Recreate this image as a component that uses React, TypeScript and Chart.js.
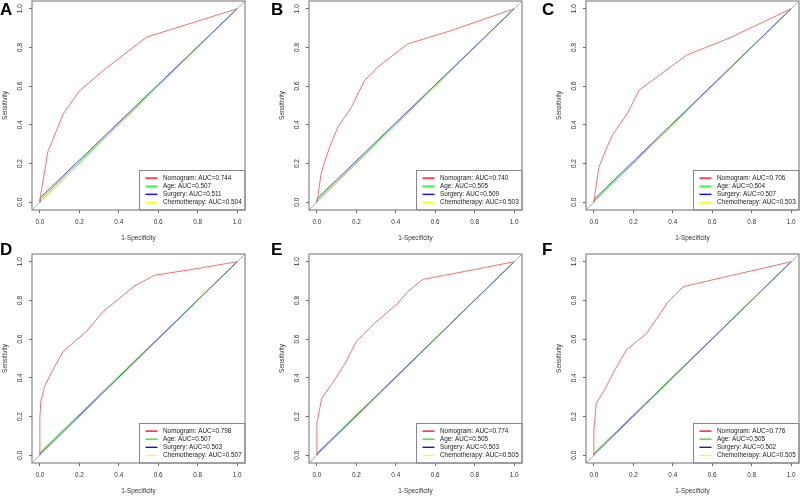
import React, { useEffect, useRef } from "react";
import { Chart, registerables } from "chart.js";

Chart.register(...registerables);

const FONT = "'Liberation Sans', Arial, sans-serif";

const tickValues = [0, 0.2, 0.4, 0.6, 0.8, 1.0];
const seriesNames = ["Nomogram", "Age", "Surgery", "Chemotherapy"];
const seriesColors = ["#ff0000", "#00ff00", "#0000ff", "#ffff00"];
// the curves in the picture are thin and so look paler than the legend keys
const curveColors = ["#ff6e6e", "#55e655", "#5c5cff", "#f2f25a"];
const panelLetters = ["A", "B", "C", "D", "E", "F"];

// AUC of each series (Nomogram, Age, Surgery, Chemotherapy)
const aucA = [0.744, 0.507, 0.511, 0.504];
const aucB = [0.74, 0.505, 0.509, 0.503];
const aucC = [0.706, 0.504, 0.507, 0.503];
const aucD = [0.798, 0.507, 0.503, 0.507];
const aucE = [0.774, 0.505, 0.503, 0.505];
const aucF = [0.776, 0.505, 0.502, 0.505];

// nomogram ROC curves: 1-specificity / sensitivity
const nomoFprA = [0, 0.003, 0.04, 0.12, 0.2, 0.32, 0.54, 0.75, 1];
const nomoTprA = [0, 0.03, 0.26, 0.46, 0.575, 0.68, 0.853, 0.92, 1];
const nomoFprB = [0, 0.005, 0.02, 0.036, 0.07, 0.107, 0.174, 0.242, 0.31, 0.46, 0.68, 1];
const nomoTprB = [0, 0.03, 0.14, 0.2, 0.3, 0.39, 0.49, 0.63, 0.7, 0.818, 0.887, 1];
const nomoFprC = [0, 0.005, 0.025, 0.06, 0.096, 0.17, 0.23, 0.35, 0.47, 0.69, 1];
const nomoTprC = [0, 0.04, 0.18, 0.27, 0.35, 0.46, 0.58, 0.67, 0.76, 0.85, 1];
const nomoFprD = [0, 0, 0.005, 0.024, 0.06, 0.117, 0.236, 0.32, 0.48, 0.58, 0.8, 1];
const nomoTprD = [0, 0.2, 0.28, 0.356, 0.43, 0.536, 0.64, 0.742, 0.875, 0.93, 0.965, 1];
const nomoFprE = [0, 0, 0.025, 0.09, 0.14, 0.2, 0.29, 0.41, 0.46, 0.537, 0.75, 1];
const nomoTprE = [0, 0.167, 0.295, 0.39, 0.47, 0.588, 0.68, 0.785, 0.845, 0.909, 0.95, 1];
const nomoFprF = [0, 0, 0.012, 0.05, 0.1, 0.165, 0.267, 0.377, 0.453, 0.7, 1];
const nomoTprF = [0, 0.13, 0.27, 0.33, 0.43, 0.545, 0.63, 0.794, 0.871, 0.93, 1];

// single cut point of the binary predictors [1-spec, sens]: Age, Surgery, Chemotherapy
const cutsA = [[0.002, 0.016], [0.002, 0.024], [0.002, 0.01]];
const cutsB = [[0.002, 0.012], [0.002, 0.02], [0.002, 0.008]];
const cutsC = [[0.002, 0.01], [0.002, 0.016], [0.002, 0.008]];
const cutsD = [[0.002, 0.016], [0.002, 0.008], [0.002, 0.016]];
const cutsE = [[0.002, 0.012], [0.002, 0.008], [0.002, 0.012]];
const cutsF = [[0.002, 0.012], [0.002, 0.006], [0.002, 0.012]];

const panels = [
    { fpr: nomoFprA, tpr: nomoTprA, cuts: cutsA, auc: aucA },
    { fpr: nomoFprB, tpr: nomoTprB, cuts: cutsB, auc: aucB },
    { fpr: nomoFprC, tpr: nomoTprC, cuts: cutsC, auc: aucC },
    { fpr: nomoFprD, tpr: nomoTprD, cuts: cutsD, auc: aucD },
    { fpr: nomoFprE, tpr: nomoTprE, cuts: cutsE, auc: aucE },
    { fpr: nomoFprF, tpr: nomoTprF, cuts: cutsF, auc: aucF },
];

const colLefts = [0, 277, 554];
const rowTops = [0, 253];
const letterLefts = [0, 271, 542];
const letterTops = [0.5, 240.5];

// frame round the plot and the R-style legend in the bottom right corner
const frameAndLegend = {
    id: "frameAndLegend",
    afterDraw(chart: any) {
        const { ctx, chartArea: a } = chart;
        ctx.save();
        const w = 105.5;
        const h = 39.5;
        const lx = a.right - w;
        const ly = a.bottom - h;
        ctx.fillStyle = "#fff";
        ctx.fillRect(lx, ly, w, h);
        ctx.strokeStyle = "#888";
        ctx.lineWidth = 1;
        ctx.strokeRect(lx, ly, w, h);
        const items = chart.data.datasets.filter((d: any) => d.label);
        items.sort((p: any, q: any) => p.legendIndex - q.legendIndex);
        ctx.font = "6.4px " + FONT;
        ctx.textBaseline = "middle";
        items.forEach((d: any, i: number) => {
            const y = ly + 7.6 + i * 8.1;
            ctx.strokeStyle = seriesColors[d.legendIndex];
            ctx.lineWidth = 1.3;
            ctx.beginPath();
            ctx.moveTo(lx + 6, y);
            ctx.lineTo(lx + 18, y);
            ctx.stroke();
            ctx.fillStyle = "#222";
            ctx.fillText(d.label, lx + 23.5, y);
        });
        ctx.strokeStyle = "#888";
        ctx.lineWidth = 1.2;
        ctx.strokeRect(a.left, a.top, a.right - a.left, a.bottom - a.top);
        ctx.restore();
    },
};

const RocPanel = ({ index }: { index: number }) => {
    const chartRef = useRef<HTMLCanvasElement>(null);
    const panel = panels[index];

    useEffect(() => {
        const drawOrder = [0, 2, 1, 3];
        const datasets: any[] = seriesNames.map((name, s) => {
            const pts =
                s === 0
                    ? panel.fpr.map((x, i) => ({ x, y: panel.tpr[i] }))
                    : [
                          { x: 0, y: 0 },
                          { x: panel.cuts[s - 1][0], y: panel.cuts[s - 1][1] },
                          { x: 1, y: 1 },
                      ];
            return {
                label: `${name}: AUC=${panel.auc[s].toFixed(3)}`,
                legendIndex: s,
                data: pts,
                borderColor: curveColors[s],
                borderWidth: 1,
                pointRadius: 0,
                showLine: true,
                fill: false,
                tension: 0,
                order: drawOrder[s],
            };
        });
        datasets.push({
            label: "",
            data: [
                { x: -0.04, y: -0.04 },
                { x: 1.04, y: 1.04 },
            ],
            borderColor: "#b4b4b4",
            borderWidth: 1,
            pointRadius: 0,
            showLine: true,
            order: 9,
        });

        const tickFont = { family: FONT, size: 6.4 };
        const grid = {
            drawOnChartArea: false,
            drawTicks: true,
            tickLength: 3,
            color: "#666",
            lineWidth: 1,
        };
        const setTicks = (scale: any) => {
            scale.ticks = tickValues.map((v) => ({ value: v }));
        };

        const chart = new Chart(chartRef.current as HTMLCanvasElement, {
            type: "scatter",
            data: { datasets },
            options: {
                responsive: true,
                maintainAspectRatio: false,
                animation: false,
                layout: { padding: { top: 1, right: 1, bottom: 0, left: 0 } },
                scales: {
                    x: {
                        type: "linear",
                        min: -0.04,
                        max: 1.04,
                        afterBuildTicks: setTicks,
                        afterFit: (scale: any) => {
                            scale.height = 33;
                            scale.paddingLeft = 0;
                            scale.paddingRight = 0;
                        },
                        grid,
                        border: { display: false },
                        ticks: {
                            font: tickFont,
                            color: "#333",
                            padding: 5,
                            maxRotation: 0,
                            autoSkip: false,
                            callback: (v: any) => Number(v).toFixed(1),
                        },
                        title: {
                            display: true,
                            text: "1-Specificity",
                            font: tickFont,
                            color: "#333",
                            padding: { top: 0, bottom: 0.5 },
                        },
                    },
                    y: {
                        type: "linear",
                        min: -0.04,
                        max: 1.04,
                        afterBuildTicks: setTicks,
                        afterFit: (scale: any) => {
                            scale.width = 32;
                            scale.paddingTop = 0;
                            scale.paddingBottom = 0;
                        },
                        grid,
                        border: { display: false },
                        ticks: {
                            font: tickFont,
                            color: "#333",
                            padding: 4,
                            minRotation: 90,
                            maxRotation: 90,
                            crossAlign: "center",
                            autoSkip: false,
                            callback: (v: any) => Number(v).toFixed(1),
                        },
                        title: {
                            display: true,
                            text: "Sensitivity",
                            font: tickFont,
                            color: "#333",
                            padding: { top: 1, bottom: 0 },
                        },
                    },
                },
                plugins: {
                    legend: { display: false },
                    tooltip: { enabled: false },
                },
            },
            plugins: [frameAndLegend],
        } as any);

        return () => {
            chart.destroy();
        };
    }, [panel]);

    const col = index % 3;
    const row = Math.floor(index / 3);
    return (
        <div
            style={{
                position: "absolute",
                left: colLefts[col],
                top: rowTops[row],
                width: 246,
                height: 243,
            }}
        >
            <canvas ref={chartRef} />
        </div>
    );
};

const App = () => {
    return (
        <div
            style={{
                position: "absolute",
                left: 0,
                top: 0,
                width: 800,
                height: 497,
                background: "#fff",
                overflow: "hidden",
            }}
        >
            {panels.map((_, i) => (
                <RocPanel key={i} index={i} />
            ))}
            {panelLetters.map((letter, i) => (
                <div
                    key={letter}
                    style={{
                        position: "absolute",
                        left: letterLefts[i % 3],
                        top: letterTops[Math.floor(i / 3)],
                        fontFamily: FONT,
                        fontWeight: "bold",
                        fontSize: 17,
                        lineHeight: 1,
                        color: "#000",
                    }}
                >
                    {letter}
                </div>
            ))}
        </div>
    );
};

export default App;
